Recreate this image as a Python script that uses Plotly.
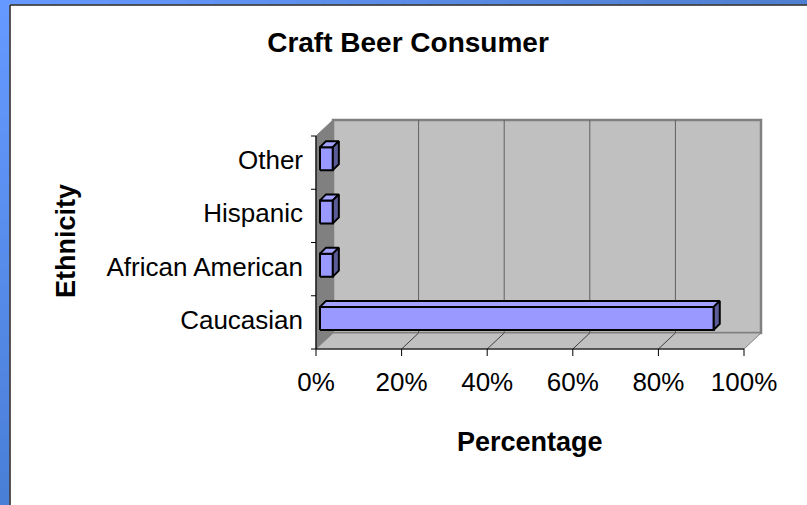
import plotly.graph_objects as go

# ---- data ----
categories = ["Caucasian", "African American", "Hispanic", "Other"]
shares = [92, 3, 3, 3]                      # percent of craft beer consumers
x_tick_values = [0, 20, 40, 60, 80, 100]
x_tick_labels = ["0%", "20%", "40%", "60%", "80%", "100%"]

# ---- canvas geometry (pixels) ----
W, H = 807, 505
M_L, M_R, M_T, M_B = 306, 36, 112, 145
PX_X = 4.28          # pixels per percentage point
PX_Y = 53.25         # pixels per category band
X0_PX = 316          # pixel column of 0 %
YB_PX = 349          # pixel row of the front floor edge


def dx(px):
    return px / PX_X


def dy(px):
    return px / PX_Y


x_range = [dx(M_L - X0_PX), dx(W - M_R - X0_PX)]
y_range = [-0.5 - dy((H - M_B) - YB_PX), -0.5 + dy(YB_PX - M_T)]

n = len(categories)
y_lo, y_hi = -0.5, n - 0.5
x_hi = x_tick_values[-1]
WX, WY = dx(17), dy(16)          # depth of the 3-D walls

FONT = "Arial, 'Liberation Sans', sans-serif"
WALL = "#c0c0c0"
SIDE = "#808080"
EDGE = "#808080"
LABEL_SIZE = 26
BOLD_SIZE = 27

fig = go.Figure()


def poly(xs, ys, fill, line_color, line_width):
    fig.add_trace(go.Scatter(
        x=xs + [xs[0]], y=ys + [ys[0]], mode="lines", fill="toself",
        fillcolor=fill, line=dict(color=line_color, width=line_width),
        hoverinfo="skip", showlegend=False))


def seg(xs, ys, color, width):
    fig.add_trace(go.Scatter(
        x=xs, y=ys, mode="lines", line=dict(color=color, width=width),
        hoverinfo="skip", showlegend=False))


# walls and floor
poly([WX, x_hi + WX, x_hi + WX, WX], [y_lo + WY, y_lo + WY, y_hi + WY, y_hi + WY],
     WALL, EDGE, 2.5)
poly([0, WX, WX, 0], [y_lo, y_lo + WY, y_hi + WY, y_hi], SIDE, SIDE, 1)
poly([0, x_hi, x_hi + WX, WX], [y_lo, y_lo, y_lo + WY, y_lo + WY], WALL, EDGE, 1)

# gridlines on the back wall and across the floor
for v in x_tick_values[1:-1]:
    seg([v + WX, v + WX], [y_lo + WY, y_hi + WY], "#606060", 1)
    seg([v, v + WX], [y_lo, y_lo + WY], "#404040", 1)

# axis lines and tick marks
seg([0, 0], [y_lo, y_hi], "black", 1.2)
seg([0, x_hi], [y_lo, y_lo], "black", 1.2)
for k in range(n + 1):
    b = y_lo + k
    seg([dx(-5), 0], [b, b], "black", 1)
for v in x_tick_values:
    seg([v, v], [y_lo, y_lo - dy(7)], "black", 1)

# 3-D bars
FX, FY = dx(4), dy(4)            # front face offset inside the depth
BX, BY = dx(6), dy(6)            # bar depth
BAR_H = dy(23)
FRONT = "#9999ff"
TOP = "#a3a3ff"
END = "#5c5c99"
for i, v in enumerate(shares):
    yc = i + FY
    yb, yt = yc - BAR_H / 2, yc + BAR_H / 2
    x0, x1 = FX, v + FX
    poly([x0, x1, x1, x0], [yb, yb, yt, yt], FRONT, "black", 2)
    poly([x0, x1, x1 + BX, x0 + BX], [yt, yt, yt + BY, yt + BY], TOP, "black", 2)
    poly([x1, x1 + BX, x1 + BX, x1], [yb, yb + BY, yt + BY, yt], END, "black", 2)

# blue frame along the left and top edges
def px_to_paper_x(px):
    return (px - M_L) / (W - M_L - M_R)


def px_to_paper_y(py):
    return ((H - M_B) - py) / (H - M_T - M_B)


def lerp(c1, c2, t):
    a = [int(c1[i:i + 2], 16) for i in (1, 3, 5)]
    b = [int(c2[i:i + 2], 16) for i in (1, 3, 5)]
    return "rgb(%d,%d,%d)" % tuple(round(a[j] + (b[j] - a[j]) * t) for j in range(3))


shapes = []
steps = 30
for s in range(steps):
    y0 = H * s / steps
    y1 = H * (s + 1) / steps + 1
    shapes.append(dict(type="rect", xref="paper", yref="paper", layer="above",
                       x0=px_to_paper_x(0), x1=px_to_paper_x(9.5),
                       y0=px_to_paper_y(y0), y1=px_to_paper_y(y1),
                       fillcolor=lerp("#6699ff", "#4a7fd8", s / (steps - 1)),
                       line=dict(width=0)))
for s in range(steps):
    xa = W * s / steps
    xb = W * (s + 1) / steps + 1
    shapes.append(dict(type="rect", xref="paper", yref="paper", layer="above",
                       x0=px_to_paper_x(xa), x1=px_to_paper_x(xb),
                       y0=px_to_paper_y(0), y1=px_to_paper_y(4.5),
                       fillcolor=lerp("#6699ff", "#4f7fd0", s / (steps - 1)),
                       line=dict(width=0)))
shapes.append(dict(type="line", xref="paper", yref="paper", layer="above",
                   x0=px_to_paper_x(10), x1=px_to_paper_x(10),
                   y0=px_to_paper_y(5), y1=px_to_paper_y(H),
                   line=dict(color="#222222", width=1.5)))
shapes.append(dict(type="line", xref="paper", yref="paper", layer="above",
                   x0=px_to_paper_x(10), x1=px_to_paper_x(W),
                   y0=px_to_paper_y(5), y1=px_to_paper_y(5),
                   line=dict(color="#222222", width=1.5)))

annotations = [
    dict(text="<b>Percentage</b>", xref="paper", yref="paper",
         x=px_to_paper_x(530), y=px_to_paper_y(442), showarrow=False,
         xanchor="center", yanchor="middle",
         font=dict(family=FONT, size=BOLD_SIZE, color="black")),
    dict(text="<b>Ethnicity</b>", xref="paper", yref="paper", textangle=-90,
         x=px_to_paper_x(66), y=px_to_paper_y(241), showarrow=False,
         xanchor="center", yanchor="middle",
         font=dict(family=FONT, size=BOLD_SIZE, color="black")),
]

fig.update_layout(
    width=W, height=H,
    margin=dict(l=M_L, r=M_R, t=M_T, b=M_B, pad=0),
    paper_bgcolor="white", plot_bgcolor="rgba(0,0,0,0)",
    title=dict(text="<b>Craft Beer Consumer</b>", xref="container", yref="container",
               x=408 / W, y=1 - 42 / H, xanchor="center", yanchor="middle",
               font=dict(family=FONT, size=BOLD_SIZE + 1, color="black")),
    xaxis=dict(range=x_range, showgrid=False, zeroline=False, showline=False,
               ticks="", tickvals=x_tick_values, ticktext=x_tick_labels,
               tickfont=dict(family=FONT, size=LABEL_SIZE, color="black"),
               ticklabelstandoff=4, fixedrange=True),
    yaxis=dict(range=y_range, showgrid=False, zeroline=False, showline=False,
               ticks="", tickvals=[i + dy(2.5) for i in range(n)], ticktext=categories,
               tickfont=dict(family=FONT, size=LABEL_SIZE, color="black"),
               ticklabelstandoff=2, fixedrange=True),
    shapes=shapes, annotations=annotations, showlegend=False,
)

fig.write_html("out.html")
